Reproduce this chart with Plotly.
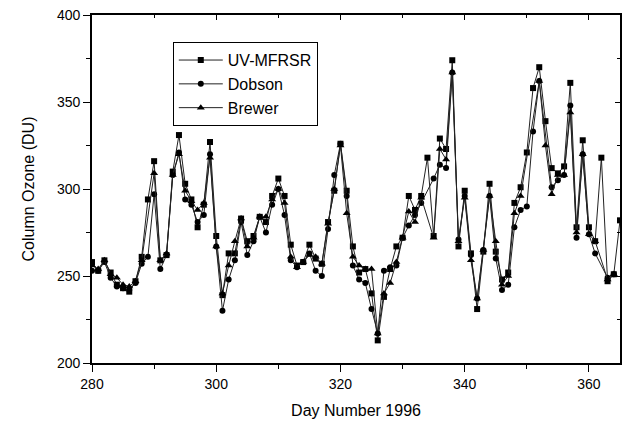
import plotly.graph_objects as go

days = list(range(280, 366))

uv_mfrsr = [258, 253, 259, 252, 245, 243, 241, 247, 261, 294,
            316, 259, 262, 310, 331, 303, 294, 278, 291, 327,
            273, 239, 263, 263, 283, 270, 273, 284, 281, 296,
            306, 296, 268, 256, 258, 268, 260, 257, 281, 299,
            326, 299, 267, 252, 254, 240, 213, 238, 254, 267,
            272, 296, 288, 296, 318, 273, 329, 323, 374, 267,
            299, 263, 231, 264, 303, 264, 248, 252, 292, 301,
            321, 358, 370, 339, 312, 309, 313, 361, 278, 328,
            278, 270, 318, 247, 251, 282]

dobson = [253, 253, 258, 249, 244, 243, 242, 246, 257, 261,
          297, 254, 262, 308, 321, 294, 291, 281, 285, 320,
          267, 230, 248, 259, 281, 262, 270, 284, 275, 291,
          300, 285, 259, 255, 258, 263, 253, 250, 277, 308,
          326, 296, 256, 248, 246, 231, 217, 253, 255, 256,
          272, 279, 285, 292, None, 306, 314, 312, 367, 271,
          296, 262, 237, 265, 296, 260, 242, 245, 278, 288,
          290, 333, 362, None, 301, 305, 308, 348, 272, 320,
          274, 263, None, 249, 251, None]

brewer = [256, 254, 259, 251, 249, 245, 244, 247, 259, None,
          309, 259, 263, 308, 320, 299, 293, 288, 292, 318,
          267, 240, 256, 270, 283, 267, 272, 284, 284, 294,
          300, 292, 261, 255, 258, 262, 261, 257, 280, 300,
          325, 286, 261, 256, 254, 254, 217, 240, 246, 258,
          272, 287, 281, 295, None, 272, 323, 317, 367, 270,
          295, 259, 237, 265, 296, 270, 245, 250, 286, 296,
          None, None, 362, 325, 297, 308, 308, 344, 275, 320,
          274, 270, None, 248, 251, None]

x_range = [280, 365]
y_range = [200, 400]
x_major = [280, 300, 320, 340, 360]
x_minor = [290, 310, 330, 350]
y_major = [200, 250, 300, 350, 400]
y_minor = [225, 275, 325, 375]

series = [
    ("UV-MFRSR", uv_mfrsr, "square", 6),
    ("Dobson", dobson, "circle", 6),
    ("Brewer", brewer, "triangle-up", 7),
]

font_family = "Arial, Liberation Sans, Helvetica, sans-serif"

fig = go.Figure()
for name, vals, sym, sz in series:
    fig.add_trace(go.Scatter(
        x=days, y=vals, name=name, mode="lines+markers",
        connectgaps=True,
        line=dict(color="#222222", width=1),
        marker=dict(symbol=sym, size=sz, color="black"),
    ))

# empty trace so the mirrored (inside-tick) top/right axes get drawn
fig.add_trace(go.Scatter(x=[None], y=[None], xaxis="x2", yaxis="y2",
                         mode="markers", showlegend=False, hoverinfo="skip"))

axis_common = dict(
    showline=True, linecolor="black", linewidth=1.8,
    mirror=True, ticks="outside", tickcolor="black",
    ticklen=7, tickwidth=1.2, showgrid=False, zeroline=False,
    automargin=False, ticklabeloverflow="allow",
    tickfont=dict(size=14, color="black", family=font_family),
)

mirror_common = dict(
    showline=False, ticks="inside", tickcolor="black",
    ticklen=5, tickwidth=1.2, showgrid=False, zeroline=False,
    showticklabels=False, automargin=False,
)

fig.update_layout(
    width=630, height=423,
    margin=dict(l=84, r=18, t=7, b=68),
    paper_bgcolor="white", plot_bgcolor="white",
    font=dict(family=font_family, color="black"),
    showlegend=True,
    legend=dict(
        x=0.153, y=0.922, xanchor="left", yanchor="top",
        bordercolor="black", borderwidth=1, bgcolor="white",
        font=dict(size=16, color="black", family=font_family),
        tracegroupgap=0, itemwidth=44,
    ),
    xaxis=dict(
        range=x_range, tickmode="array", tickvals=x_major,
        minor=dict(tickvals=x_minor, ticklen=4,
                   tickcolor="black", ticks="outside"),
        title=dict(text="Day Number 1996",
                   font=dict(size=16, color="black", family=font_family),
                   standoff=14),
        **axis_common,
    ),
    yaxis=dict(
        range=y_range, tickmode="array", tickvals=y_major,
        minor=dict(tickvals=y_minor, ticklen=4,
                   tickcolor="black", ticks="outside"),
        title=dict(text="Column Ozone (DU)",
                   font=dict(size=16, color="black", family=font_family),
                   standoff=18),
        **axis_common,
    ),
    xaxis2=dict(
        overlaying="x", side="top", anchor="y2", range=x_range,
        tickmode="array", tickvals=x_major,
        minor=dict(tickvals=x_minor, ticklen=3,
                   tickcolor="black", ticks="inside"),
        **mirror_common,
    ),
    yaxis2=dict(
        overlaying="y", side="right", anchor="x2", range=y_range,
        tickmode="array", tickvals=y_major,
        minor=dict(tickvals=y_minor, ticklen=3,
                   tickcolor="black", ticks="inside"),
        **mirror_common,
    ),
)

fig.write_html("out.html")
